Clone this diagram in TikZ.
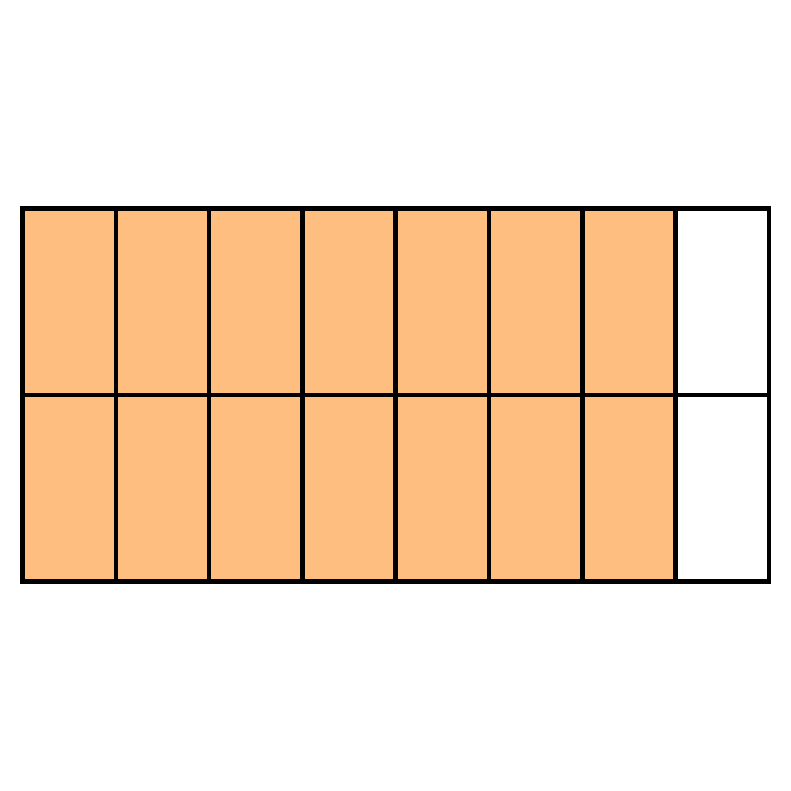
\documentclass[tikz,border=0pt]{standalone}
\definecolor{cellorange}{RGB}{253,190,128}
\begin{document}
\begin{tikzpicture}[x=1pt,y=-1pt,
  cell/.style={draw=black,line width=4.5pt},
  filled/.style={cell,fill=cellorange},
  empty/.style={cell,fill=white}]
\useasboundingbox (0,0) rectangle (791,791);
\def\xl{22.5}\def\cw{93.3}\def\yt{208.5}\def\rh{186.5}
\foreach \r in {0,1}{
  \foreach \c in {0,...,6}{
    \path[filled] ({\xl+\c*\cw},{\yt+\r*\rh}) rectangle ({\xl+(\c+1)*\cw},{\yt+(\r+1)*\rh});
  }
  \path[empty] ({\xl+7*\cw},{\yt+\r*\rh}) rectangle ({\xl+8*\cw},{\yt+(\r+1)*\rh});
}
\end{tikzpicture}
\end{document}
